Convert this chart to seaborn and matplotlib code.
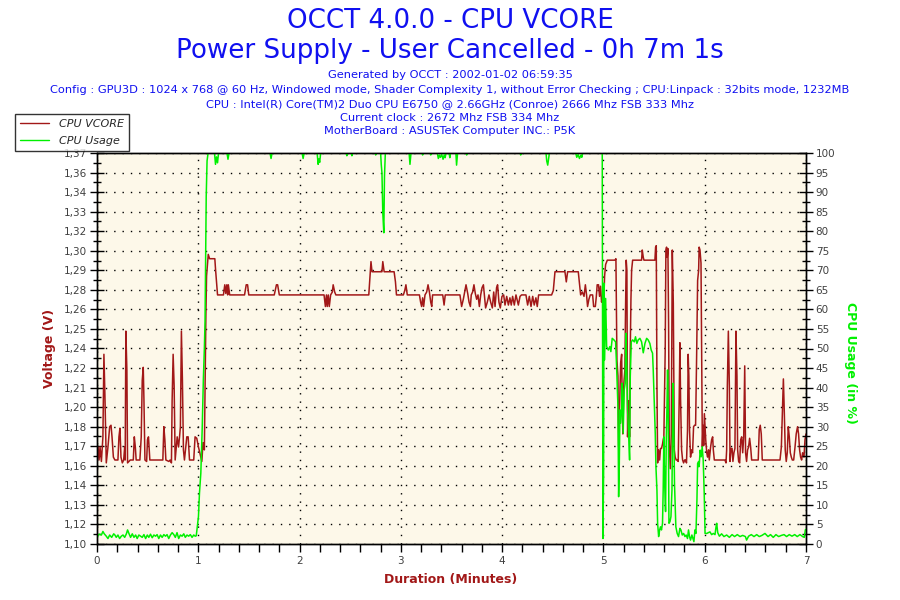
import numpy as np
import matplotlib
matplotlib.use("Agg")
import matplotlib.pyplot as plt
from matplotlib.ticker import MultipleLocator, AutoMinorLocator
from matplotlib.lines import Line2D
import seaborn as sns

sns.set_style("white")
plt.rcParams['font.family'] = ['DejaVu Sans']

# --- dados (tempo em segundos) ---
vcore_sec = [
    0, 0.6, 1.2, 1.8, 2.6, 3.5, 4.1, 4.7, 5.5, 6.5, 7.5, 8.3, 8.9, 9.7, 10.6, 12.4, 13.0, 13.6, 14.2, 15.0,
    15.8, 16.4, 16.7, 17.1, 17.7, 18.1, 19.7, 21.5, 22.1, 22.7, 23.2, 25.4, 26.2, 26.8, 27.4, 27.8, 28.4,
    29.4, 29.9, 30.5, 31.3, 39.0, 39.6, 40.2, 40.8, 42.6, 43.3, 44.1, 44.5, 45.1, 45.7, 46.3, 47.5, 48.3,
    48.9, 49.4, 50.0, 50.6, 51.2, 51.8, 52.4, 53.2, 54.0, 54.8, 57.3, 58.1, 59.1, 60.1, 61.3, 62.1, 62.8,
    63.6, 64.5, 64.9, 65.9, 66.7, 69.8, 70.2, 71.2, 71.4, 74.9, 75.7, 76.3, 76.9, 77.4, 77.8, 78.6, 87.4,
    88.4, 89.2, 89.9, 105.0, 106.3, 107.0, 108.0, 134.5, 135.3, 135.9, 136.4, 137.0, 137.6, 138.4, 139.4,
    139.9, 140.8, 141.5, 161.0, 161.9, 162.3, 162.9, 168.8, 169.3, 170.1, 176.0, 176.8, 177.4, 181.5,
    182.3, 183.0, 183.8, 191.0, 191.7, 192.3, 192.9, 193.5, 194.3, 195.3, 196.1, 196.9, 197.7, 198.3,
    198.8, 204.8, 205.6, 206.3, 215.0, 216.0, 217.0, 217.8, 218.6, 219.6, 220.4, 221.2, 221.7, 222.5,
    223.3, 224.1, 224.9, 225.7, 226.5, 227.3, 228.1, 228.9, 229.4, 230.2, 231.2, 232.2, 233.2, 234.2,
    235.0, 235.8, 236.7, 237.3, 238.1, 238.9, 239.9, 240.9, 241.7, 242.7, 243.7, 244.6, 245.4, 246.2,
    247.2, 248.2, 249.6, 250.6, 251.5, 254.1, 255.1, 256.1, 257.1, 258.1, 259.0, 260.0, 260.8, 261.6,
    269.3, 270.3, 271.3, 277.2, 278.0, 278.8, 285.1, 285.9, 286.5, 287.5, 288.5, 289.3, 290.0, 290.6,
    291.4, 292.2, 293.0, 293.6, 294.2, 295.2, 295.8, 296.3, 297.1, 297.7, 298.3, 298.9, 299.5, 300.1,
    300.7, 301.3, 302.3, 306.8, 307.4, 308.0, 308.6, 309.0, 309.6, 310.2, 310.8, 311.1, 311.5, 312.1,
    312.7, 313.1, 313.5, 313.9, 314.3, 314.9, 315.5, 315.9, 316.3, 316.7, 317.3, 322.6, 323.0, 323.6,
    324.0, 330.5, 330.9, 331.3, 331.7, 332.1, 332.7, 333.3, 333.8, 334.4, 335.0, 335.4, 335.8, 336.2,
    336.6, 337.0, 337.4, 337.8, 338.2, 338.6, 339.0, 339.6, 340.2, 340.8, 341.4, 342.0, 342.5, 343.1,
    343.7, 344.3, 344.9, 345.3, 345.7, 346.3, 346.9, 347.5, 348.1, 348.7, 349.2, 349.8, 350.2, 350.6,
    351.0, 351.6, 352.2, 352.8, 353.4, 354.0, 354.6, 355.2, 355.8, 356.4, 356.7, 357.2, 357.8, 358.2,
    358.6, 359.0, 359.4, 359.8, 360.2, 360.6, 361.2, 361.7, 362.3, 362.7, 363.5, 364.1, 364.7, 365.1,
    365.7, 372.0, 372.6, 373.0, 373.4, 374.0, 374.6, 375.0, 375.6, 376.2, 376.7, 377.3, 377.9, 378.5,
    379.1, 379.5, 380.1, 380.7, 381.3, 381.9, 382.5, 383.1, 383.7, 384.2, 384.8, 385.4, 386.0, 386.6,
    387.2, 387.8, 391.7, 392.3, 392.9, 393.5, 394.1, 404.6, 405.4, 406.0, 406.6, 407.1, 407.7, 408.3,
    408.9, 409.5, 410.1, 410.7, 411.3, 411.9, 412.7, 413.5, 414.2, 415.0, 415.6, 416.2, 416.8, 417.4,
    418.0, 418.8, 419.4, 420.0,
]
vcore_volt = [
    1.160, 1.167, 1.158, 1.167, 1.157, 1.174, 1.231, 1.202, 1.156, 1.167, 1.181, 1.182, 1.174, 1.160, 1.158, 1.158, 1.174, 1.180, 1.160, 1.156,
    1.158, 1.167, 1.158, 1.247, 1.220, 1.156, 1.158, 1.158, 1.174, 1.167, 1.158, 1.158, 1.174, 1.213, 1.222, 1.200, 1.158,
    1.157, 1.172, 1.174, 1.158, 1.158, 1.181, 1.172, 1.158, 1.157, 1.158, 1.156, 1.199, 1.231, 1.209, 1.158, 1.174, 1.167,
    1.174, 1.181, 1.247, 1.213, 1.165, 1.158, 1.165, 1.174, 1.174, 1.158, 1.158, 1.174, 1.173, 1.167, 1.161, 1.157, 1.170,
    1.165, 1.258, 1.285, 1.300, 1.297, 1.297, 1.290, 1.275, 1.272, 1.272, 1.279, 1.273, 1.279, 1.272, 1.279, 1.272, 1.272,
    1.279, 1.279, 1.272, 1.272, 1.279, 1.279, 1.272, 1.272, 1.264, 1.272, 1.264, 1.272, 1.264, 1.272, 1.274,
    1.279, 1.274, 1.272, 1.272, 1.288, 1.295, 1.288, 1.288, 1.295, 1.288, 1.288, 1.281, 1.272, 1.272,
    1.275, 1.279, 1.272, 1.272, 1.267, 1.264, 1.270, 1.264, 1.272, 1.274, 1.279, 1.274, 1.267, 1.264,
    1.272, 1.272, 1.265, 1.272, 1.272, 1.264, 1.269, 1.274, 1.279, 1.273, 1.267, 1.264, 1.272, 1.274,
    1.279, 1.273, 1.269, 1.272, 1.264, 1.272, 1.277, 1.279, 1.273, 1.263, 1.267, 1.272, 1.267, 1.263,
    1.274, 1.264, 1.277, 1.279, 1.267, 1.263, 1.271, 1.272, 1.265, 1.271, 1.265, 1.270, 1.265, 1.271,
    1.265, 1.272, 1.265, 1.271, 1.272, 1.272, 1.265, 1.271, 1.264, 1.271, 1.265, 1.270, 1.264, 1.272,
    1.272, 1.275, 1.288, 1.288, 1.281, 1.288, 1.288, 1.279, 1.272, 1.274, 1.271, 1.279, 1.272, 1.264,
    1.269, 1.272, 1.272, 1.272, 1.264, 1.264, 1.271, 1.279, 1.279, 1.271, 1.278, 1.267, 1.271, 1.264,
    1.285, 1.293, 1.296, 1.296, 1.297, 1.227, 1.216, 1.167, 1.195, 1.225, 1.231, 1.197, 1.176, 1.211,
    1.220, 1.262, 1.296, 1.289, 1.174, 1.199, 1.174, 1.234, 1.269, 1.289, 1.296, 1.296, 1.303, 1.298,
    1.296, 1.296, 1.305, 1.306, 1.211, 1.156, 1.165, 1.158, 1.166, 1.166, 1.169, 1.172, 1.174, 1.204,
    1.234, 1.303, 1.305, 1.298, 1.304, 1.252, 1.169, 1.152, 1.176, 1.303, 1.266, 1.165, 1.160, 1.158,
    1.158, 1.157, 1.201, 1.239, 1.200, 1.165, 1.158, 1.156, 1.158, 1.158, 1.156, 1.178, 1.231, 1.216,
    1.179, 1.160, 1.165, 1.163, 1.181, 1.182, 1.182, 1.229, 1.282, 1.289, 1.305, 1.303, 1.294, 1.226,
    1.167, 1.182, 1.168, 1.190, 1.181, 1.172, 1.163, 1.160, 1.165, 1.158, 1.167, 1.172, 1.174, 1.165,
    1.158, 1.158, 1.156, 1.165, 1.209, 1.247, 1.209, 1.157, 1.166, 1.166, 1.157, 1.163, 1.166, 1.247,
    1.216, 1.165, 1.157, 1.156, 1.172, 1.174, 1.163, 1.174, 1.223, 1.163, 1.157, 1.165, 1.167, 1.173,
    1.167, 1.158, 1.158, 1.179, 1.182, 1.176, 1.158, 1.158, 1.167, 1.190, 1.214, 1.193, 1.165, 1.157,
    1.163, 1.181, 1.174, 1.163, 1.160, 1.158, 1.158, 1.167, 1.176, 1.181, 1.176, 1.165, 1.160, 1.158,
    1.163, 1.160, 1.172, 1.176,
]

usage_sec = [
    0, 0.8, 1.6, 2.6, 3.5, 4.3, 5.5, 6.5, 7.5, 8.7, 9.9, 10.6, 11.4, 12.4, 13.4, 14.4, 15.4, 16.4, 17.4, 18.1,
    19.0, 19.9, 20.9, 21.9, 22.9, 23.8, 24.8, 25.8, 26.8, 27.8, 28.8, 29.8, 30.7, 31.7, 32.7, 33.7, 34.7,
    35.6, 36.6, 37.6, 38.6, 39.6, 40.6, 41.5, 42.5, 43.5, 44.5, 45.5, 46.4, 47.4, 48.4, 49.4, 50.4, 51.4,
    52.3, 53.3, 54.3, 55.3, 56.3, 57.3, 58.2, 58.8, 60.1, 60.7, 61.5, 62.3, 63.0, 63.6, 64.0, 64.3, 64.7,
    65.2, 65.8, 69.6, 70.2, 70.8, 71.4, 72.0, 77.0, 77.6, 78.2, 102.5, 103.1, 103.7, 121.5, 122.1, 122.7,
    130.4, 131.0, 131.5, 131.9, 132.5, 147.6, 148.0, 148.4, 150.6, 151.0, 151.4, 164.7, 165.1, 165.5,
    168.0, 168.4, 168.8, 169.3, 169.9, 170.3, 170.8, 184.9, 185.4, 186.0, 192.5, 192.9, 193.3, 197.3,
    197.7, 198.1, 201.6, 202.2, 202.8, 203.4, 204.2, 205.0, 205.7, 206.2, 206.8, 208.6, 209.0, 209.4,
    212.6, 213.0, 213.6, 218.6, 219.0, 219.4, 250.6, 251.0, 251.4, 266.0, 266.4, 267.0, 267.5, 268.0,
    283.6, 284.2, 285.0, 285.8, 286.6, 287.2, 287.7, 299.3, 299.7, 300.1, 300.3, 300.7, 301.3, 301.9,
    302.9, 303.8, 304.4, 305.2, 306.2, 307.2, 307.8, 308.6, 309.0, 309.4, 309.8, 310.2, 310.8, 311.1,
    311.7, 312.3, 312.9, 313.3, 313.7, 314.3, 314.9, 315.5, 315.9, 316.5, 317.3, 318.3, 319.0, 319.8,
    320.6, 321.6, 322.6, 323.6, 324.6, 325.6, 326.5, 327.5, 328.3, 329.1, 329.5, 330.1, 330.7, 331.1,
    331.7, 332.1, 332.7, 333.3, 333.8, 334.4, 335.0, 335.4, 335.8, 336.2, 336.8, 337.2, 337.6, 338.0,
    338.4, 338.8, 339.4, 340.0, 340.6, 341.2, 341.6, 342.1, 342.9, 343.7, 344.5, 345.3, 345.9, 346.7,
    347.5, 348.3, 349.0, 349.8, 350.4, 351.0, 351.6, 352.4, 353.0, 353.6, 354.2, 354.8, 355.4, 355.8,
    356.4, 356.7, 357.3, 357.9, 358.5, 359.1, 359.7, 360.2, 361.2, 362.1, 363.1, 364.1, 365.1, 366.1,
    366.7, 367.1, 367.7, 368.7, 370.0, 371.4, 373.0, 374.6, 376.2, 377.7, 379.3, 380.9, 382.5, 384.1,
    384.8, 386.0, 387.6, 389.2, 390.8, 392.3, 393.9, 395.7, 397.5, 399.0, 400.6, 402.2, 403.8, 405.4,
    407.0, 408.5, 410.1, 411.7, 413.3, 414.8, 416.4, 418.0, 419.0, 419.6, 420.0,
]
usage_pct = [
    1.4, 2.4, 2.5, 2.3, 3.2, 2.6, 2.0, 1.4, 2.3, 1.7, 2.6, 2.3, 1.7, 2.3, 1.4, 2.0, 2.3, 1.7, 2.6, 3.6,
    2.6, 1.7, 2.6, 1.7, 2.3, 1.4, 2.3, 2.0, 1.7, 2.4, 1.4, 2.3, 1.7, 2.5, 1.6, 2.3, 2.0,
    2.4, 1.4, 2.3, 1.7, 2.4, 2.0, 2.4, 1.4, 2.3, 2.9, 2.4, 1.7, 2.9, 1.4, 2.3, 2.0, 2.6,
    1.7, 2.3, 2.0, 2.4, 1.7, 2.3, 2.0, 2.1, 7.0, 13.0, 18.1, 29.2, 42.0, 50.0, 57.0, 71.0, 89.0,
    98.0, 100, 100, 97.1, 99.0, 97.5, 100, 100, 98.4, 100, 100, 98.6, 100, 100, 98.6, 100,
    100, 97.1, 98.5, 97.6, 100, 100, 99.3, 100, 100, 99.3, 100, 100, 99.5, 100,
    100, 97.0, 94.9, 84.7, 79.6, 94.0, 100, 100, 97.1, 100, 100, 99.5, 100, 100,
    99.5, 100, 100, 98.6, 99.4, 98.9, 99.6, 98.4, 99.5, 98.8, 100, 100, 98.8, 100,
    100, 96.9, 100, 100, 99.5, 100, 100, 99.5, 100, 100, 98.0, 96.9, 98.5, 100,
    100, 98.9, 99.6, 98.6, 99.4, 98.9, 100, 100, 1.4, 18.1, 66.7, 47.1, 62.8, 50.5,
    49.6, 50.5, 49.2, 52.6, 52.2, 51.7, 45.4, 35.1, 12.1, 20.6, 34.3, 30.9, 34.3, 41.1,
    28.3, 39.4, 41.1, 53.9, 47.9, 34.3, 28.3, 21.5, 42.8, 51.7, 52.2, 51.7, 53.0, 51.3,
    52.2, 52.6, 51.7, 48.9, 51.3, 52.6, 52.2, 51.3, 49.6, 48.8, 44.5, 36.0, 28.3, 19.8,
    13.8, 5.3, 1.9, 3.6, 4.4, 3.6, 5.3, 13.8, 27.4, 16.4, 8.3, 25.7, 34.3, 44.5,
    34.3, 5.3, 5.7, 7.0, 13.8, 41.1, 32.6, 15.5, 4.4, 2.7, 1.9, 4.0, 3.6, 2.3,
    2.7, 1.9, 2.3, 1.4, 3.6, 1.9, 1.0, 2.3, 1.4, 0.6, 3.6, 2.7, 11.3, 20.6,
    21.1, 19.8, 24.0, 22.3, 24.9, 21.5, 13.0, 2.7, 2.7, 2.9, 3.1, 2.4, 2.7, 2.4,
    4.4, 5.3, 2.9, 2.0, 2.6, 1.9, 2.3, 1.7, 2.4, 1.9, 2.4, 1.9, 2.2, 1.9,
    1.0, 2.0, 2.4, 1.9, 2.4, 1.9, 2.2, 2.7, 1.9, 2.4, 1.7, 2.4, 1.9, 2.2,
    2.4, 1.9, 2.4, 2.0, 2.4, 1.9, 2.4, 1.9, 1.7, 3.6, 3.8,
]

volt_ticklabels = ['1,10', '1,12', '1,13', '1,14', '1,16', '1,17', '1,18', '1,20', '1,21', '1,22', '1,24',
                   '1,25', '1,26', '1,28', '1,29', '1,30', '1,32', '1,33', '1,34', '1,36', '1,37']
volt_range = (1.10, 1.37)
usage_ticks = list(range(0, 101, 5))

title_lines = ["OCCT 4.0.0 - CPU VCORE", "Power Supply - User Cancelled - 0h 7m 1s"]
info_lines = [
    "Generated by OCCT : 2002-01-02 06:59:35",
    "Config : GPU3D : 1024 x 768 @ 60 Hz, Windowed mode, Shader Complexity 1, without Error Checking ; CPU:Linpack : 32bits mode, 1232MB",
    "CPU : Intel(R) Core(TM)2 Duo CPU E6750 @ 2.66GHz (Conroe) 2666 Mhz FSB 333 Mhz",
    "Current clock : 2672 Mhz FSB 334 Mhz",
    "MotherBoard : ASUSTeK Computer INC.: P5K",
]

red = '#A21818'
green = '#00F000'
blue = '#1010F0'
tick_grey = '#404040'

fig = plt.figure(figsize=(9, 6), dpi=100)
ax = fig.add_axes([97 / 900, 1 - 544 / 600, (806 - 97) / 900, (544 - 153) / 600])
ax.set_facecolor('#FDF8E9')
ax2 = ax.twinx()

vcore_min = np.array(vcore_sec) / 60.0
usage_min = np.array(usage_sec) / 60.0
sns.lineplot(x=vcore_min, y=vcore_volt, ax=ax, color=red, linewidth=1.1,
             estimator=None, sort=False, legend=False)
sns.lineplot(x=usage_min, y=usage_pct, ax=ax2, color=green, linewidth=1.1,
             estimator=None, sort=False, legend=False)

ax.set_xlim(0, 7)
ax.set_ylim(*volt_range)
ax2.set_ylim(0, 100)

ax.xaxis.set_major_locator(MultipleLocator(1))
ax.xaxis.set_minor_locator(MultipleLocator(0.2))
ax.set_yticks(np.linspace(volt_range[0], volt_range[1], len(volt_ticklabels)))
ax.set_yticklabels(volt_ticklabels)
ax.yaxis.set_minor_locator(AutoMinorLocator(2))
ax2.set_yticks(usage_ticks)
ax2.yaxis.set_minor_locator(AutoMinorLocator(2))

ax.grid(True, which='major', color='black', linestyle=(0, (1, 5)), linewidth=1.0)
for a in (ax, ax2):
    for sp in a.spines.values():
        sp.set_color('black')
        sp.set_linewidth(1.0)
        sp.set_visible(True)

ax.tick_params(axis='x', which='both', direction='out', length=6, width=1, color='black',
               labelsize=7.5, labelcolor=tick_grey, pad=3, bottom=True)
ax.tick_params(axis='y', which='major', direction='inout', length=10, width=1, color='black',
               labelsize=7.5, labelcolor=tick_grey, pad=2, left=True)
ax.tick_params(axis='y', which='minor', direction='inout', length=6, width=1, color='black', left=True)
ax2.tick_params(axis='y', which='major', direction='inout', length=10, width=1, color='black',
                labelsize=7.5, labelcolor=tick_grey, pad=2, right=True)
ax2.tick_params(axis='y', which='minor', direction='inout', length=6, width=1, color='black', right=True)
ax2.grid(False)
ax2.set_ylabel('')
ax.set_ylabel('')

fig.text(0.0555, 1 - 348 / 600, 'Voltage (V)', rotation=90, color=red, fontsize=9,
         fontweight='bold', ha='center', va='center')
fig.text(0.945, 1 - 363 / 600, 'CPU Usage (in %)', rotation=-90, color=green, fontsize=9,
         fontweight='bold', ha='center', va='center')
fig.text(451 / 900, 1 - 580 / 600, 'Duration (Minutes)', color=red, fontsize=9,
         fontweight='bold', ha='center', va='center')

fig.text(450 / 900, 1 - 21 / 600, title_lines[0], color=blue, fontsize=18.8, ha='center', va='center')
fig.text(450 / 900, 1 - 51 / 600, title_lines[1], color=blue, fontsize=18.8, ha='center', va='center')
for yy, line in zip([75, 90, 104, 118, 131], info_lines):
    fig.text(450 / 900, 1 - yy / 600, line, color=blue, fontsize=8.2, ha='center', va='center')

handles = [Line2D([], [], color=red, linewidth=1.0), Line2D([], [], color=green, linewidth=1.0)]
leg = fig.legend(handles, ['CPU VCORE', 'CPU Usage'], loc='upper left',
                 bbox_to_anchor=(15 / 900, 1 - 114 / 600), frameon=True, fancybox=False,
                 prop={'style': 'italic', 'size': 8.0}, handlelength=2.6, borderpad=0.45,
                 labelspacing=0.65, handletextpad=0.9, borderaxespad=0.0)
leg.get_frame().set_edgecolor('black')
leg.get_frame().set_linewidth(1.0)

fig.savefig('out.png', dpi=100, facecolor='white')
